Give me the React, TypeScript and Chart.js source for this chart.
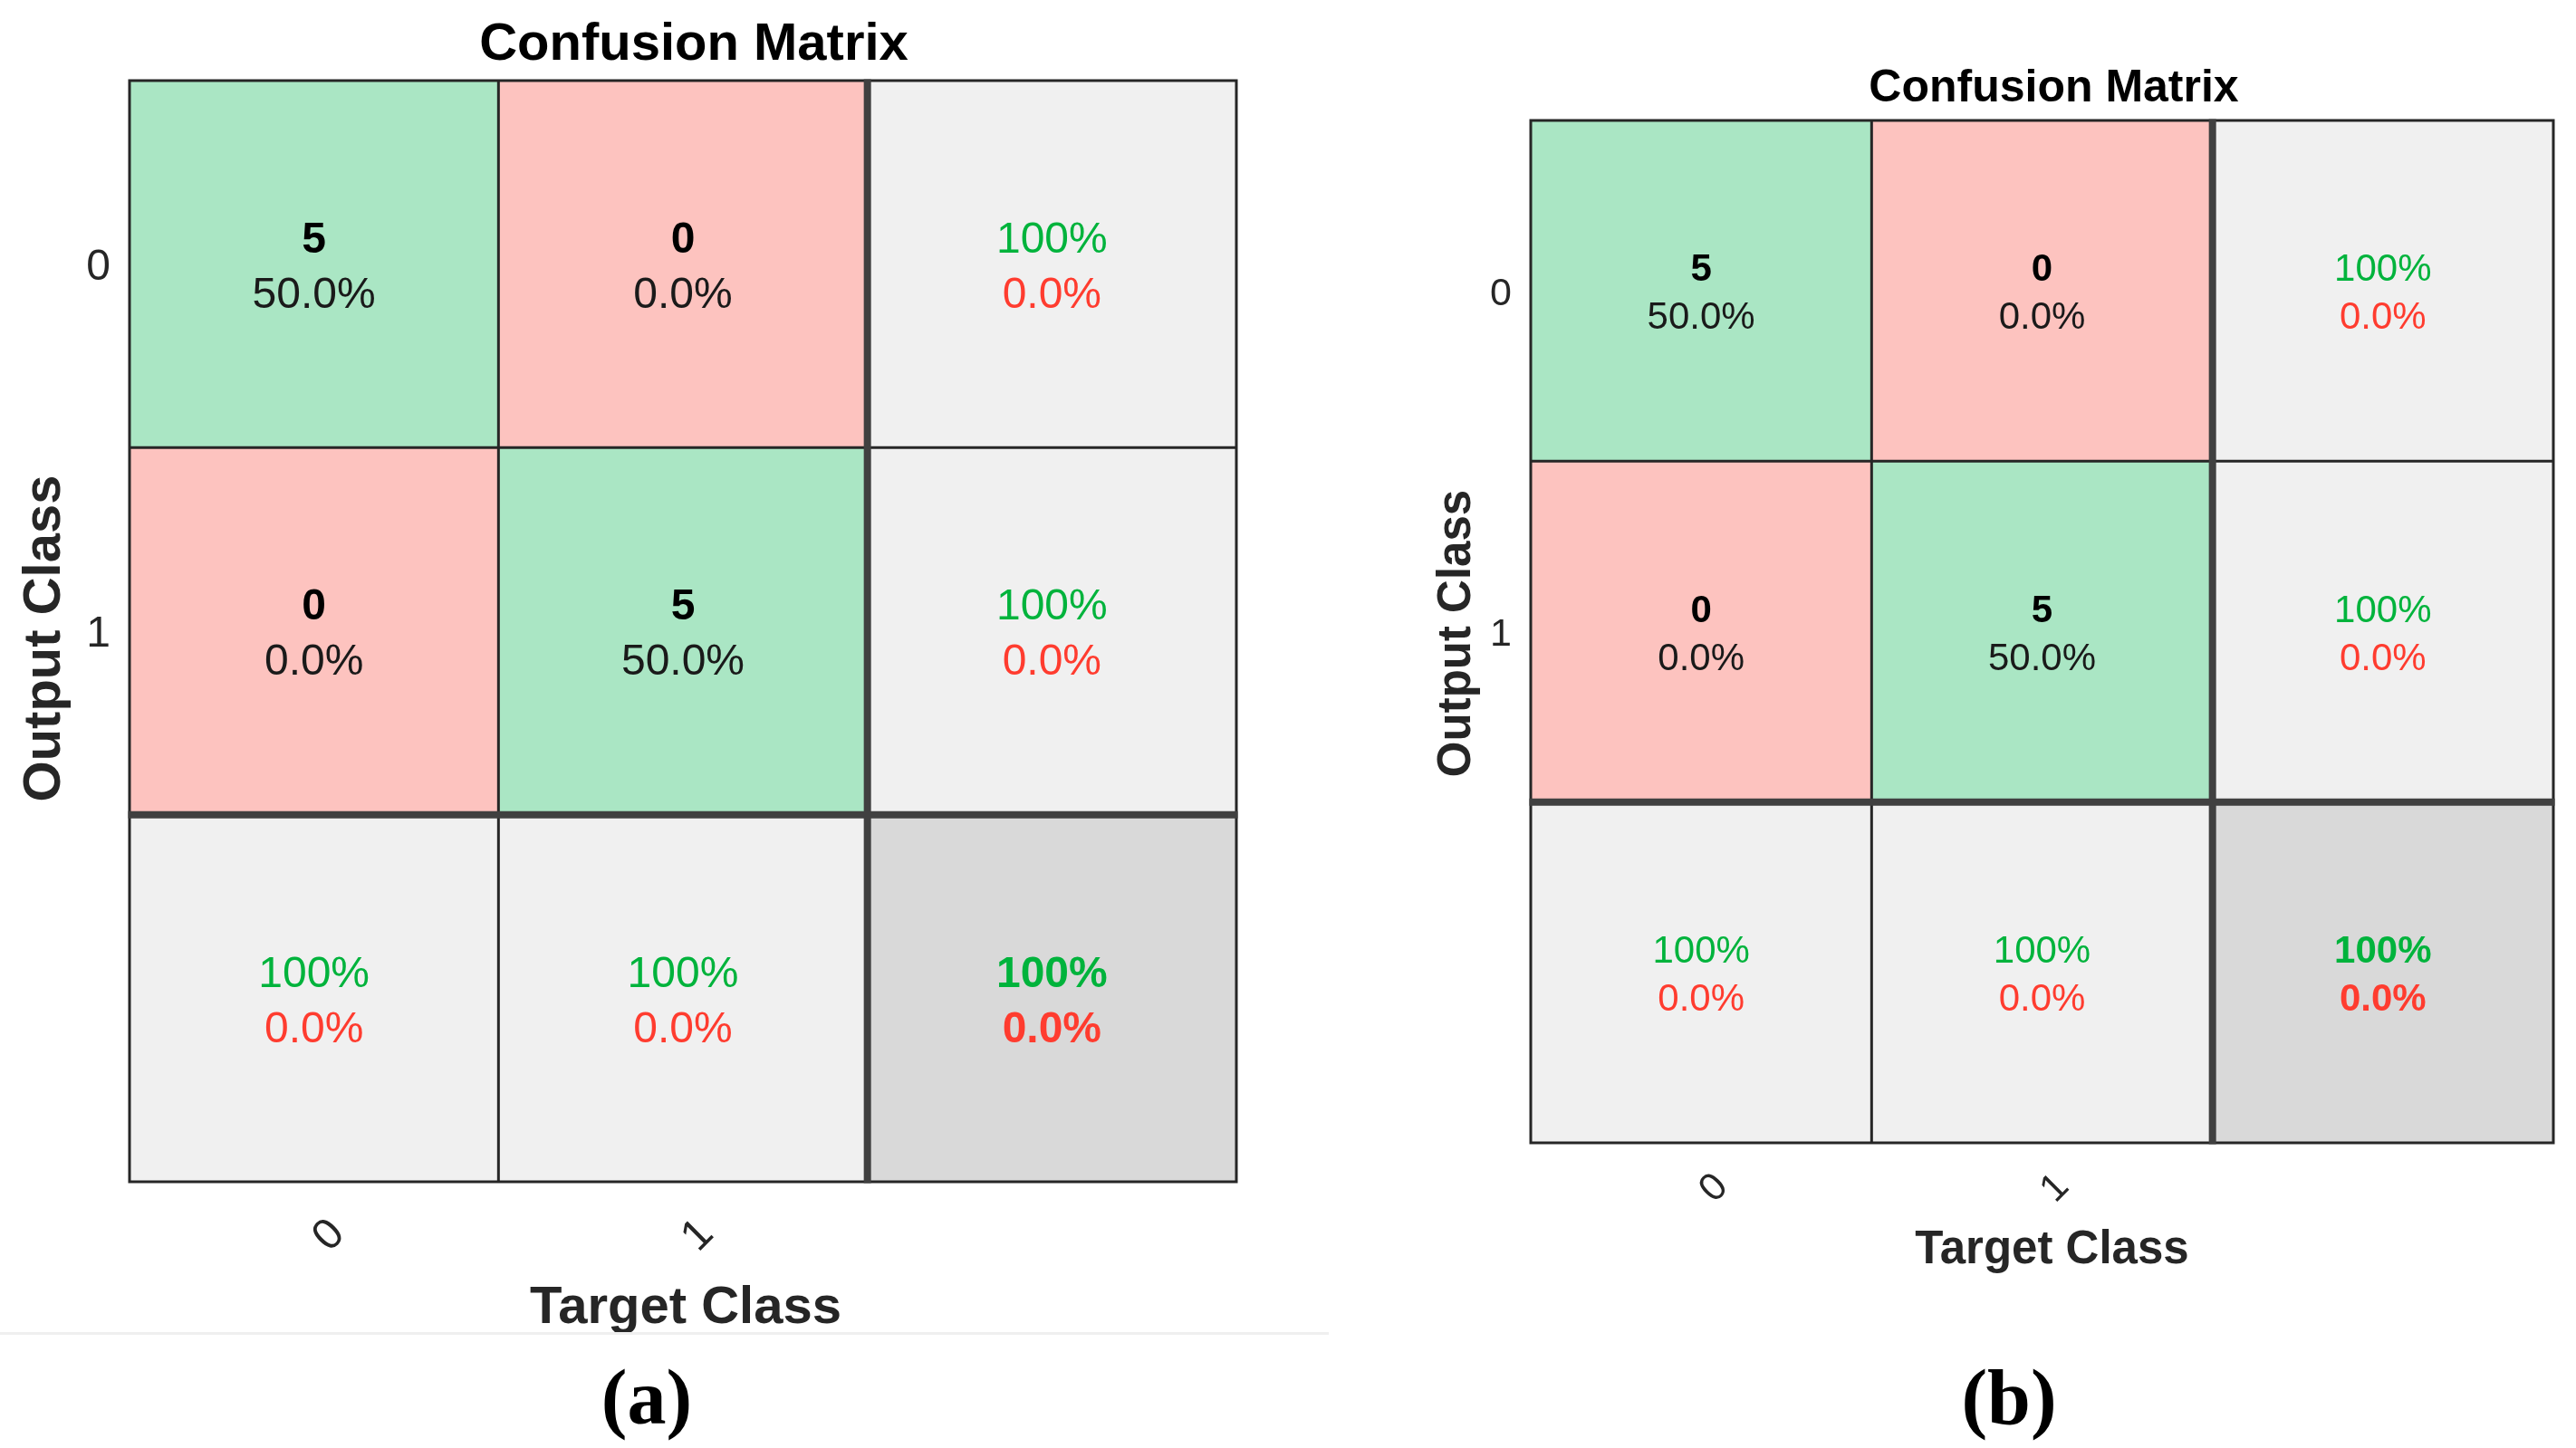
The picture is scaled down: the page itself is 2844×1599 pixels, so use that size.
import React, { useEffect, useRef } from 'react';
import { Chart, registerables } from 'chart.js';

Chart.register(...registerables);

// ---- data ----
const classes = ['0', '1'];
const columnLabels = ['0', '1', 'all'];
const counts = [
  [5, 0],
  [0, 5],
];
const cellPercents = [
  [50.0, 0.0],
  [0.0, 50.0],
];
const rowCorrect = [100, 100];
const rowError = [0.0, 0.0];
const colCorrect = [100, 100];
const colError = [0.0, 0.0];
const overallCorrect = 100;
const overallError = 0.0;
const rowIndex = [0, 1, 2];

const GREEN_CELL = '#AAE6C4';
const RED_CELL = '#FDC3BF';
const GRAY_CELL = '#F0F0F0';
const CORNER_CELL = '#D9D9D9';
const GREEN_TEXT = '#00B33C';
const RED_TEXT = '#FF3C2F';
const SANS = '"Liberation Sans", Arial, Helvetica, sans-serif';

const fmt = (v: number) => (v === 100 ? '100%' : v.toFixed(1) + '%');

type Cfg = {
  pad: { left: number; top: number; right: number; bottom: number };
  cellFont: number;
  lineUp: number;
  lineDown: number;
  tickFont: number;
  tickGap: number;
  xTickDx: number;
  xTickDy: number;
  titleFont: number;
  titleDx: number;
  titleDy: number;
  labelFont: number;
  xLabelDx: number;
  xLabelDy: number;
  yLabelDx: number;
  yLabelDy: number;
  thin: number;
  thick: number;
};

function text(
  ctx: CanvasRenderingContext2D,
  s: string,
  x: number,
  cy: number,
  size: number,
  weight: string,
  color: string,
  align: CanvasTextAlign = 'center'
) {
  ctx.font = `${weight} ${size}px ${SANS}`;
  ctx.fillStyle = color;
  ctx.textAlign = align;
  ctx.textBaseline = 'alphabetic';
  ctx.fillText(s, x, cy + size * 0.358);
}

function makePlugin(cfg: Cfg) {
  return {
    id: 'confusionDecor',
    afterDatasetsDraw(chart: any) {
      const ctx: CanvasRenderingContext2D = chart.ctx;
      const area = chart.chartArea;
      const xs = chart.scales.x;
      const ys = chart.scales.y;
      const cells: { x0: number; x1: number; y0: number; y1: number; cx: number; cy: number }[][] = [];
      rowIndex.forEach((r) => {
        const meta = chart.getDatasetMeta(r);
        cells.push(
          meta.data.map((el: any) => {
            const p = el.getProps(['x', 'y', 'base', 'width'], true);
            const x0 = p.x - p.width / 2;
            const x1 = p.x + p.width / 2;
            const y0 = Math.min(p.y, p.base);
            const y1 = Math.max(p.y, p.base);
            return { x0, x1, y0, y1, cx: (x0 + x1) / 2, cy: (y0 + y1) / 2 };
          })
        );
      });

      ctx.save();
      // cell texts
      for (let r = 0; r < 3; r++) {
        for (let c = 0; c < 3; c++) {
          const cell = cells[r][c];
          const up = cell.cy - cfg.lineUp;
          const down = cell.cy + cfg.lineDown;
          if (r < 2 && c < 2) {
            text(ctx, String(counts[r][c]), cell.cx, up, cfg.cellFont, 'bold', '#000000');
            text(ctx, fmt(cellPercents[r][c]), cell.cx, down, cfg.cellFont, 'normal', '#1a1a1a');
          } else if (r < 2 && c === 2) {
            text(ctx, fmt(rowCorrect[r]), cell.cx, up, cfg.cellFont, 'normal', GREEN_TEXT);
            text(ctx, fmt(rowError[r]), cell.cx, down, cfg.cellFont, 'normal', RED_TEXT);
          } else if (r === 2 && c < 2) {
            text(ctx, fmt(colCorrect[c]), cell.cx, up, cfg.cellFont, 'normal', GREEN_TEXT);
            text(ctx, fmt(colError[c]), cell.cx, down, cfg.cellFont, 'normal', RED_TEXT);
          } else {
            text(ctx, fmt(overallCorrect), cell.cx, up, cfg.cellFont, 'bold', GREEN_TEXT);
            text(ctx, fmt(overallError), cell.cx, down, cfg.cellFont, 'bold', RED_TEXT);
          }
        }
      }

      // thin grid lines + outer border
      ctx.strokeStyle = '#262626';
      ctx.lineWidth = cfg.thin;
      ctx.beginPath();
      const vx = cells[0][1].x0;
      const hy = cells[1][0].y0;
      ctx.moveTo(vx, area.top);
      ctx.lineTo(vx, area.bottom);
      ctx.moveTo(area.left, hy);
      ctx.lineTo(area.right, hy);
      ctx.rect(area.left, area.top, area.right - area.left, area.bottom - area.top);
      ctx.stroke();

      // thick separators
      ctx.strokeStyle = '#404040';
      ctx.lineWidth = cfg.thick;
      ctx.beginPath();
      const tx = cells[0][2].x0;
      const ty = cells[2][0].y0;
      ctx.moveTo(tx, area.top - cfg.thin / 2);
      ctx.lineTo(tx, area.bottom + cfg.thin / 2);
      ctx.moveTo(area.left - cfg.thin / 2, ty);
      ctx.lineTo(area.right + cfg.thin / 2, ty);
      ctx.stroke();

      // y tick labels
      classes.forEach((lab, r) => {
        const y = ys.getPixelForValue(r + 0.5);
        text(ctx, lab, area.left - cfg.tickGap, y, cfg.tickFont, 'normal', '#262626', 'right');
      });

      // x tick labels (rotated)
      classes.forEach((lab, c) => {
        const x = xs.getPixelForValue(c) + cfg.xTickDx;
        const y = area.bottom + cfg.xTickDy;
        ctx.save();
        ctx.translate(x, y);
        ctx.rotate(-Math.PI / 4);
        text(ctx, lab, 0, 0, cfg.tickFont, 'normal', '#262626');
        ctx.restore();
      });

      const midX = (area.left + area.right) / 2;
      const midY = (area.top + area.bottom) / 2;

      // title
      text(ctx, 'Confusion Matrix', midX + cfg.titleDx, area.top - cfg.titleDy, cfg.titleFont, 'bold', '#000000');
      // x label
      text(ctx, 'Target Class', midX + cfg.xLabelDx, area.bottom + cfg.xLabelDy, cfg.labelFont, 'bold', '#262626');
      // y label
      ctx.save();
      ctx.translate(area.left + cfg.yLabelDx, midY + cfg.yLabelDy);
      ctx.rotate(-Math.PI / 2);
      text(ctx, 'Output Class', 0, 0, cfg.labelFont, 'bold', '#262626');
      ctx.restore();

      ctx.restore();
    },
  };
}

function cellColor(r: number, c: number) {
  if (r === 2 && c === 2) return CORNER_CELL;
  if (r === 2 || c === 2) return GRAY_CELL;
  return r === c ? GREEN_CELL : RED_CELL;
}

function Panel({ cfg, left, width }: { cfg: Cfg; left: number; width: number }) {
  const ref = useRef<HTMLCanvasElement>(null);
  useEffect(() => {
    const canvas = ref.current;
    if (!canvas) return;
    const chart = new Chart(canvas, {
      type: 'bar',
      data: {
        labels: columnLabels,
        datasets: rowIndex.map((r) => ({
          label: 'row ' + r,
          data: columnLabels.map(() => [r, r + 1]) as any,
          backgroundColor: columnLabels.map((_, c) => cellColor(r, c)),
          borderWidth: 0,
          barPercentage: 1,
          categoryPercentage: 1,
          grouped: false,
        })),
      },
      options: {
        animation: false,
        responsive: false,
        devicePixelRatio: 1,
        events: [],
        layout: { padding: cfg.pad },
        plugins: { legend: { display: false }, tooltip: { enabled: false }, title: { display: false } },
        scales: {
          x: { type: 'category', display: false, offset: true, grid: { display: false } },
          y: { type: 'linear', display: false, min: 0, max: 3, reverse: true, grid: { display: false } },
        },
      },
      plugins: [makePlugin(cfg)],
    });
    return () => chart.destroy();
  }, []);
  return (
    <canvas
      ref={ref}
      width={width}
      height={1599}
      style={{ position: 'absolute', left, top: 0, width, height: 1599 }}
    />
  );
}

const leftCfg: Cfg = {
  pad: { left: 143, top: 89, right: 1480 - 1365, bottom: 1599 - 1305 },
  cellFont: 48,
  lineUp: 30,
  lineDown: 31,
  tickFont: 48,
  tickGap: 21,
  xTickDx: 14,
  xTickDy: 57,
  titleFont: 58,
  titleDx: 12,
  titleDy: 44,
  labelFont: 58,
  xLabelDx: 3,
  xLabelDy: 135,
  yLabelDx: -98,
  yLabelDy: 8,
  thin: 3,
  thick: 8,
};

const rightCfg: Cfg = {
  pad: { left: 1690 - 1480, top: 133, right: 1364 - (2819 - 1480), bottom: 1599 - 1262 },
  cellFont: 42,
  lineUp: 26,
  lineDown: 27,
  tickFont: 43,
  tickGap: 21,
  xTickDx: 12,
  xTickDy: 48,
  titleFont: 50,
  titleDx: 13,
  titleDy: 39,
  labelFont: 51,
  xLabelDx: 11,
  xLabelDy: 115,
  yLabelDx: -85,
  yLabelDy: 2,
  thin: 3,
  thick: 8,
};

const captionStyle: React.CSSProperties = {
  position: 'absolute',
  top: 1543,
  transform: 'translate(-50%, -50%)',
  fontFamily: '"Liberation Serif", "Times New Roman", serif',
  fontWeight: 'bold',
  fontSize: 86,
  lineHeight: 1,
  color: '#000',
  whiteSpace: 'nowrap',
};

export default function App() {
  useEffect(() => {
    document.body.style.margin = '0';
  }, []);
  return (
    <div
      style={{
        position: 'absolute',
        left: 0,
        top: 0,
        width: 2844,
        height: 1599,
        overflow: 'hidden',
        background: '#ffffff',
      }}
    >
      <Panel cfg={leftCfg} left={0} width={1480} />
      <Panel cfg={rightCfg} left={1480} width={1364} />
      <div
        style={{
          position: 'absolute',
          left: 0,
          top: 1471,
          width: 1467,
          height: 3,
          background: '#EFEFEF',
        }}
      />
      <div style={{ ...captionStyle, left: 714 }}>(a)</div>
      <div style={{ ...captionStyle, left: 2218 }}>(b)</div>
    </div>
  );
}
